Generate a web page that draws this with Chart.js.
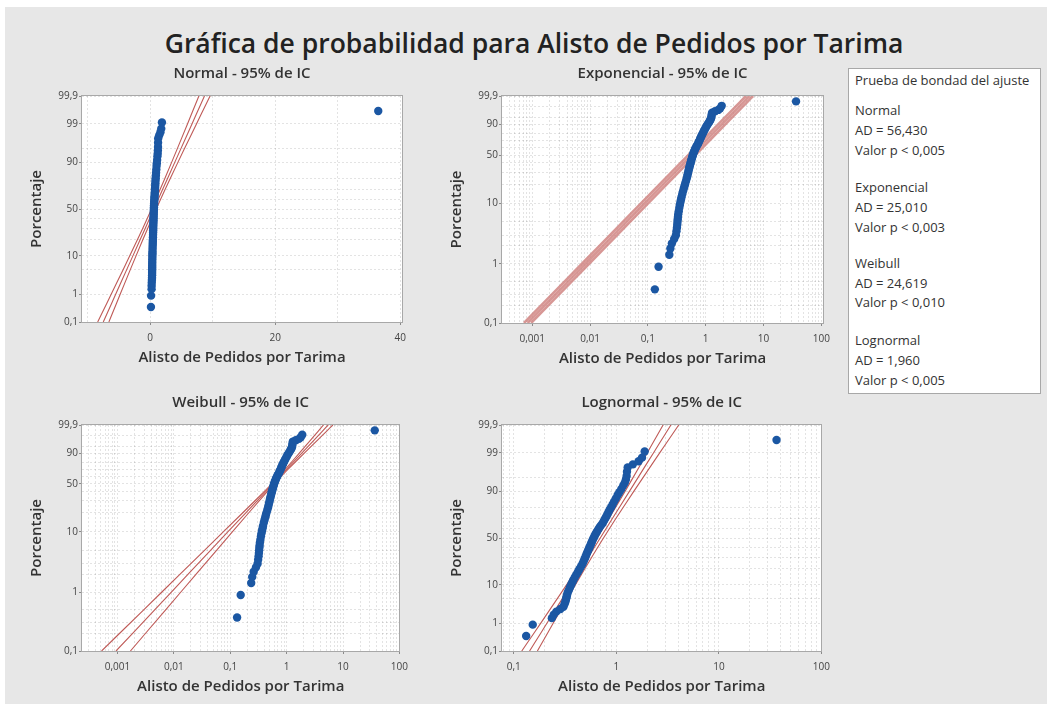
<!DOCTYPE html>
<html><head><meta charset="utf-8">
<script src="https://cdn.jsdelivr.net/npm/chart.js@4.4.1/dist/chart.umd.min.js"></script>
<style>
html,body{margin:0;padding:0;background:#fff;width:1047px;height:704px;overflow:hidden;}
#fig{position:absolute;left:5px;top:7px;width:1042px;height:697px;background:#e7e7e7;}
canvas{position:absolute;}
#title{position:absolute;left:0;width:1068px;top:26px;text-align:center;font:600 26.5px "Open Sans";color:#222;line-height:34px;}
#box{position:absolute;left:848px;top:68px;width:193px;height:326px;background:#fff;border:1px solid #a8a8a8;box-sizing:border-box;font:13px "Open Sans";color:#333;}
#box div{position:absolute;left:6px;line-height:16px;white-space:nowrap;}
</style></head>
<body>
<div id="fig"></div>
<div id="title">Gráfica de probabilidad para Alisto de Pedidos por Tarima</div>
<canvas id="cNormal" width="402" height="308" style="left:12px;top:64px"></canvas>
<canvas id="cExp" width="405" height="309" style="left:432px;top:64px"></canvas>
<canvas id="cWeib" width="403" height="308" style="left:12px;top:393px"></canvas>
<canvas id="cLogn" width="405" height="308" style="left:432px;top:393px"></canvas>
<div id="box"></div>
<script>
// ---- data ----
const values = [0.132,0.153,0.235,0.245,0.26,0.285,0.305,0.312,0.318,0.322,0.325,0.328,0.331,0.335,0.342,0.350,0.358,0.366,0.374,0.381,0.393,0.405,0.417,0.428,0.439,0.454,0.468,0.479,0.489,0.499,0.508,0.518,0.528,0.538,0.548,0.558,0.568,0.578,0.589,0.600,0.612,0.625,0.640,0.656,0.673,0.692,0.714,0.738,0.756,0.776,0.796,0.816,0.838,0.860,0.89,0.92,0.95,0.99,1.03,1.07,1.12,1.17,1.21,1.24,1.26,1.27,1.29,1.45,1.65,1.78,1.89,36.5];
const percents = [0.37,0.89,1.42,1.8,2.2,2.6,3.0,3.5,4,4.5,5,5.5,6,6.7,7.5,8.5,9.5,10.5,11.5,12.5,14,15.5,17,18.5,20,22,24,26,28,30,32,34,36,38,40,42,44,46,48,50,52,54,56,58,60,62,64,66,68,70,72,74,76,78,80,82,84,86,88,89.5,91,92.5,93.5,94.5,95.5,96.5,97.3,97.8,98.2,98.6,99.1,99.63];
const sampleSize = 190;

const normalFit = {mean:0.6, sd:2.62};
const expFit = {theta:0.83};
const weibullFit = {shape:1.02, scale:0.82, ciH0:0.02, ciK:0.038, ciW0:-0.2};
const lognormalFit = {loc:-0.3615, scale:0.5135};
const linePercents = [0.1,0.2,0.5,1,2,5,10,20,30,40,50,60,70,80,90,95,98,99,99.5,99.8,99.9];

const yTicksNormalMajor = [0.1,1,10,50,90,99,99.9];
const yTicksNormalMinor = [5,20,30,40,60,70,80,95];
const yTicksWeibMajor = [0.1,1,10,50,90,99.9];
const yTicksWeibMinor = [0.2,0.3,0.5,2,3,5,20,30,40,60,70,80,95,99];
const xTicksNormalMajor = [0,20,40];
const xTicksNormalMinor = [-10,10,30];
const xTicksLogMajorWide = [0.001,0.01,0.1,1,10,100];
const xTicksLogMajorLogn = [0.1,1,10,100];

const legendTitle = 'Prueba de bondad del ajuste';
const legendLines = ['Normal','AD = 56,430','Valor p < 0,005','Exponencial','AD = 25,010','Valor p < 0,003','Weibull','AD = 24,619','Valor p < 0,010','Lognormal','AD = 1,960','Valor p < 0,005'];

// ---- helpers ----
function normInv(p){
 const a=[-3.969683028665376e+01,2.209460984245205e+02,-2.759285104469687e+02,1.383577518672690e+02,-3.066479806614716e+01,2.506628277459239e+00];
 const b=[-5.447609879822406e+01,1.615858368580409e+02,-1.556989798598866e+02,6.680131188771972e+01,-1.328068155288572e+01];
 const c=[-7.784894002430293e-03,-3.223964580411365e-01,-2.400758277161838e+00,-2.549732539343734e+00,4.374664141464968e+00,2.938163982698783e+00];
 const d=[7.784695709041462e-03,3.224671290700398e-01,2.445134137142996e+00,3.754408661907416e+00];
 const pl=0.02425, ph=1-pl; let q,r;
 if(p<pl){q=Math.sqrt(-2*Math.log(p));return (((((c[0]*q+c[1])*q+c[2])*q+c[3])*q+c[4])*q+c[5])/((((d[0]*q+d[1])*q+d[2])*q+d[3])*q+1);}
 if(p<=ph){q=p-0.5;r=q*q;return (((((a[0]*r+a[1])*r+a[2])*r+a[3])*r+a[4])*r+a[5])*q/(((((b[0]*r+b[1])*r+b[2])*r+b[3])*r+b[4])*r+1);}
 q=Math.sqrt(-2*Math.log(1-p));return -(((((c[0]*q+c[1])*q+c[2])*q+c[3])*q+c[4])*q+c[5])/((((d[0]*q+d[1])*q+d[2])*q+d[3])*q+1);
}
const zT = pct => normInv(pct/100);
const wT = pct => Math.log(-Math.log(1-pct/100));
const lbl = v => String(v).replace('.', ',');
const logMinors = (lo, hi) => { const r=[]; for(let e=lo;e<=hi;e++){for(let m=2;m<=9;m++) r.push(+(m*Math.pow(10,e)).toPrecision(3));} return r; };

const FONT = '"Open Sans", "Noto Sans", sans-serif';
const BLUE = '#1b57a3';
const RED = '#bf5a57';
const RED_BAND = 'rgba(205,125,122,0.8)';
const GRID = 'rgba(0,0,0,0.11)';
const z975 = 1.96;

// fitted lines
function normalLines(){
  const f=[],lo=[],up=[];
  linePercents.forEach(p=>{const z=zT(p), y=z, x=normalFit.mean+normalFit.sd*z;
    const h=z975*normalFit.sd/Math.sqrt(sampleSize)*Math.sqrt(1+z*z/2);
    f.push({x,y}); lo.push({x:x-h,y}); up.push({x:x+h,y});});
  return [f,lo,up];
}
function lognLines(){
  const f=[],lo=[],up=[];
  linePercents.forEach(p=>{const z=zT(p), lx=lognormalFit.loc+lognormalFit.scale*z;
    const h=z975*lognormalFit.scale/Math.sqrt(sampleSize)*Math.sqrt(1+z*z/2);
    f.push({x:Math.exp(lx),y:z}); lo.push({x:Math.exp(lx-h),y:z}); up.push({x:Math.exp(lx+h),y:z});});
  return [f,lo,up];
}
function expLines(){
  const f=[],lo=[],up=[]; const h=z975/Math.sqrt(sampleSize);
  linePercents.forEach(p=>{const w=wT(p), x=expFit.theta*(-Math.log(1-p/100));
    f.push({x,y:w}); lo.push({x:x*Math.exp(-h),y:w}); up.push({x:x*Math.exp(h),y:w});});
  return [f,lo,up];
}
function weibLines(){
  const f=[],lo=[],up=[];
  linePercents.forEach(p=>{const w=wT(p), lx=Math.log(weibullFit.scale)+w/weibullFit.shape;
    const h=Math.LN10*Math.sqrt(weibullFit.ciH0**2+(weibullFit.ciK*(w-weibullFit.ciW0))**2);
    f.push({x:Math.exp(lx),y:w}); lo.push({x:Math.exp(lx-h),y:w}); up.push({x:Math.exp(lx+h),y:w});});
  return [f,lo,up];
}

const framePlugin = {
  id:'frame',
  beforeDraw(chart){const {ctx,chartArea:a}=chart; ctx.save(); ctx.fillStyle='#fff'; ctx.fillRect(a.left,a.top,a.right-a.left,a.bottom-a.top); ctx.restore();},
  afterDraw(chart){const {ctx,chartArea:a}=chart; ctx.save(); ctx.strokeStyle='#a8a8a8'; ctx.lineWidth=1;
    ctx.strokeRect(Math.round(a.left)-0.5,Math.round(a.top)-0.5,Math.round(a.right-a.left)+1,Math.round(a.bottom-a.top)+1); ctx.restore();}
};

function buildChart(id, o){
  const yTicks = o.yMajor.map(p=>({value:o.yT(p),txt:lbl(p),isMajor:true}))
    .concat(o.yMinor.map(p=>({value:o.yT(p),txt:'',isMajor:false}))).sort((a,b)=>a.value-b.value);
  const xTicks = o.xMajor.map(v=>({value:v,txt:lbl(v),isMajor:true}))
    .concat(o.xMinor.map(v=>({value:v,txt:'',isMajor:false}))).filter(t=>t.value>=o.xMin&&t.value<=o.xMax).sort((a,b)=>a.value-b.value);
  const pts = values.map((v,i)=>({x:v,y:o.yT(percents[i])}));
  const col = o.band ? RED_BAND : RED, bw = o.band ? 2.6 : 1.1;
  const ln = d=>({type:'line',data:d,borderColor:col,backgroundColor:col,borderWidth:bw,pointRadius:0,fill:false,tension:0,showLine:true});
  const [f,lo,up]=o.lines;
  const tickCol = c=>(c.tick&&c.tick.isMajor)?'#8a8a8a':'rgba(0,0,0,0)';
  new Chart(document.getElementById(id),{
    type:'scatter',
    data:{datasets:[
      {data:pts,backgroundColor:BLUE,borderColor:BLUE,borderWidth:0,pointRadius:4.2,pointHoverRadius:4.2},
      ln(lo),ln(up),ln(f)]},
    options:{
      animation:false,responsive:false,events:[],
      layout:{padding:{left:0,right:12,top:0,bottom:0}},
      plugins:{legend:{display:false},tooltip:{enabled:false},
        title:{display:true,fullSize:false,text:o.title,color:'#333',font:{family:FONT,size:15,weight:'600',lineHeight:1},padding:{top:2,bottom:15}}},
      scales:{
        x:{type:o.xType,min:o.xMin,max:o.xMax,position:'bottom',
          afterBuildTicks:s=>{s.ticks=xTicks.map(t=>({...t}));},
          afterFit:s=>{s.height=50;},
          ticks:{autoSkip:false,maxRotation:0,color:'#444',font:{family:FONT,size:10},padding:7,callback:(v,i,t)=>t[i].txt},
          grid:{color:GRID,lineWidth:1,tickLength:3,tickColor:tickCol},
          border:{display:false,dash:[2,2]},
          title:{display:true,text:'Alisto de Pedidos por Tarima',color:'#333',font:{family:FONT,size:15,weight:'600'},padding:{top:0,bottom:5.5}}},
        y:{type:'linear',min:o.yT(0.1),max:o.yT(99.9),position:'left',
          afterBuildTicks:s=>{s.ticks=yTicks.map(t=>({...t}));},
          afterFit:s=>{s.width=70;},
          ticks:{autoSkip:false,color:'#444',font:{family:FONT,size:10},padding:1,callback:(v,i,t)=>t[i].txt},
          grid:{color:GRID,lineWidth:1,tickLength:3,tickColor:tickCol},
          border:{display:false,dash:[2,2]},
          title:{display:true,text:'Porcentaje',color:'#333',font:{family:FONT,size:15,weight:'600'},padding:{top:16,bottom:0}}}
      }
    },
    plugins:[framePlugin]
  });
}

buildChart('cNormal',{title:'Normal - 95% de IC',yT:zT,yMajor:yTicksNormalMajor,yMinor:yTicksNormalMinor,
  xType:'linear',xMin:-10.9,xMax:40.3,xMajor:xTicksNormalMajor,xMinor:xTicksNormalMinor,lines:normalLines()});
buildChart('cExp',{title:'Exponencial - 95% de IC',yT:wT,yMajor:yTicksWeibMajor,yMinor:yTicksWeibMinor,band:true,
  xType:'logarithmic',xMin:Math.pow(10,-3.48),xMax:Math.pow(10,2.03),xMajor:xTicksLogMajorWide,xMinor:logMinors(-4,1),lines:expLines()});
buildChart('cWeib',{title:'Weibull - 95% de IC',yT:wT,yMajor:yTicksWeibMajor,yMinor:yTicksWeibMinor,
  xType:'logarithmic',xMin:Math.pow(10,-3.63),xMax:Math.pow(10,2.0),xMajor:xTicksLogMajorWide,xMinor:logMinors(-4,1),lines:weibLines()});
buildChart('cLogn',{title:'Lognormal - 95% de IC',yT:zT,yMajor:yTicksNormalMajor,yMinor:yTicksNormalMinor,
  xType:'logarithmic',xMin:Math.pow(10,-1.115),xMax:Math.pow(10,2.0),xMajor:xTicksLogMajorLogn,xMinor:logMinors(-2,1),lines:lognLines()});

// legend box text
(function(){
  const box=document.getElementById('box');
  const top=68;
  const centers=[110,130,150,187,207,227,263,283,302,340,360,380];
  const add=(t,c)=>{const d=document.createElement('div');d.textContent=t;d.style.top=(c-top-1-8)+'px';box.appendChild(d);};
  add(legendTitle,80);
  legendLines.forEach((t,i)=>add(t,centers[i]));
})();
</script>
</body></html>
